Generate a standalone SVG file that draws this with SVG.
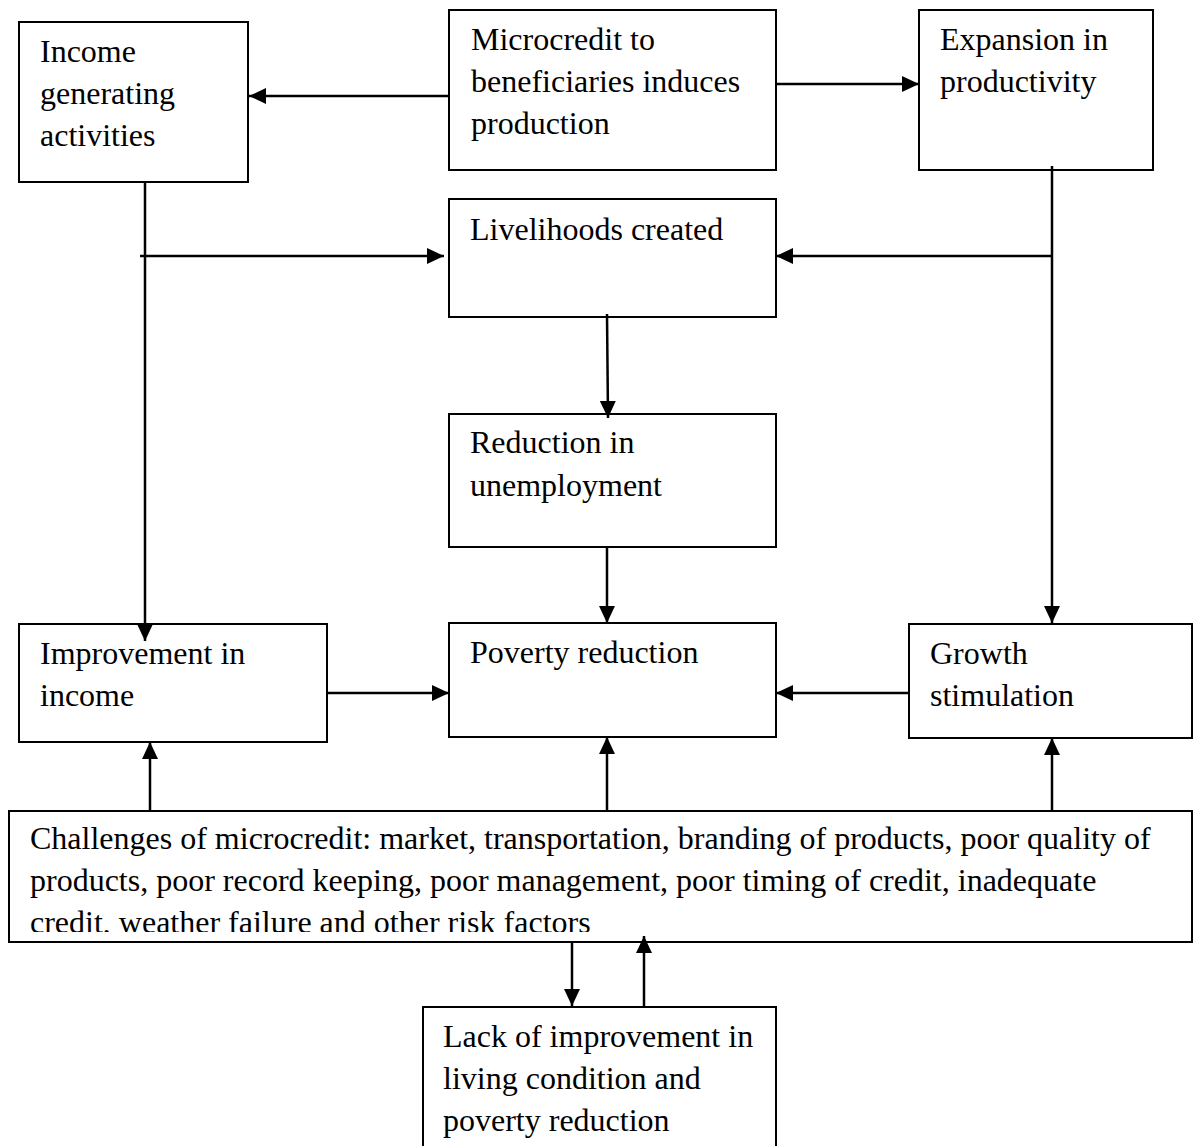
<svg xmlns="http://www.w3.org/2000/svg" width="1193" height="1146" viewBox="0 0 1193 1146">
<style>
.box{fill:#fff;stroke:#000;stroke-width:2}
.t{font-family:"Liberation Serif","Times New Roman",serif;font-size:32px;fill:#000}
.c{fill:none;stroke:#000;stroke-width:2.5}
.a{marker-end:url(#ah)}
</style>
<defs>
<marker id="ah" markerUnits="userSpaceOnUse" markerWidth="18" markerHeight="18" refX="17" refY="8" orient="auto">
<path d="M0,0 L17,8 L0,16 z" fill="#000"/>
</marker>
<clipPath id="clipI"><rect x="9" y="811" width="1183" height="121"/></clipPath>
</defs>
<rect width="1193" height="1146" fill="#fff"/>

<g id="n-income-generating">
<rect class="box" x="19" y="22" width="229" height="160"/>
<text class="t" x="40" y="62">Income</text>
<text class="t" x="40" y="104">generating</text>
<text class="t" x="40" y="146">activities</text>
</g>

<g id="n-microcredit">
<rect class="box" x="449" y="10" width="327" height="160"/>
<text class="t" x="471" y="50">Microcredit to</text>
<text class="t" x="471" y="92">beneficiaries induces</text>
<text class="t" x="471" y="134">production</text>
</g>

<g id="n-expansion">
<rect class="box" x="919" y="10" width="234" height="160"/>
<text class="t" x="940" y="50">Expansion in</text>
<text class="t" x="940" y="92">productivity</text>
</g>

<g id="n-livelihoods">
<rect class="box" x="449" y="199" width="327" height="118"/>
<text class="t" x="470" y="240">Livelihoods created</text>
</g>

<g id="n-reduction-unemployment">
<rect class="box" x="449" y="414" width="327" height="133"/>
<text class="t" x="470" y="453">Reduction in</text>
<text class="t" x="470" y="496">unemployment</text>
</g>

<g id="n-improvement-income">
<rect class="box" x="19" y="624" width="308" height="118"/>
<text class="t" x="40" y="664">Improvement in</text>
<text class="t" x="40" y="706">income</text>
</g>

<g id="n-poverty-reduction">
<rect class="box" x="449" y="623" width="327" height="114"/>
<text class="t" x="470" y="663">Poverty reduction</text>
</g>

<g id="n-growth">
<rect class="box" x="909" y="624" width="283" height="114"/>
<text class="t" x="930" y="664">Growth</text>
<text class="t" x="930" y="706">stimulation</text>
</g>

<g id="n-challenges">
<rect class="box" x="9" y="811" width="1183" height="131"/>
<g clip-path="url(#clipI)">
<text class="t" x="30" y="849">Challenges of microcredit: market, transportation, branding of products, poor quality of</text>
<text class="t" x="30" y="891">products, poor record keeping, poor management, poor timing of credit, inadequate</text>
<text class="t" x="30" y="933">credit, weather failure and other risk factors</text>
</g>
</g>

<g id="n-lack-improvement">
<rect class="box" x="423" y="1007" width="353" height="150"/>
<text class="t" x="443" y="1047">Lack of improvement in</text>
<text class="t" x="443" y="1089">living condition and</text>
<text class="t" x="443" y="1131">poverty reduction</text>
</g>

<g id="connectors">
<line class="c a" x1="449" y1="96" x2="249" y2="96"/>
<line class="c a" x1="776" y1="84" x2="919" y2="84"/>
<line class="c a" x1="145" y1="182" x2="145" y2="641"/>
<line class="c a" x1="140" y1="256" x2="444" y2="256"/>
<line class="c a" x1="1052" y1="166" x2="1052" y2="623"/>
<line class="c a" x1="1052" y1="256" x2="776" y2="256"/>
<line class="c a" x1="607" y1="314" x2="608" y2="418"/>
<line class="c a" x1="607" y1="547" x2="607" y2="623"/>
<line class="c a" x1="327" y1="693" x2="449" y2="693"/>
<line class="c a" x1="909" y1="693" x2="776" y2="693"/>
<line class="c a" x1="150" y1="811" x2="150" y2="742"/>
<line class="c a" x1="607" y1="811" x2="607" y2="737"/>
<line class="c a" x1="1052" y1="811" x2="1052" y2="738"/>
<line class="c a" x1="572" y1="942" x2="572" y2="1006"/>
<line class="c a" x1="644" y1="1007" x2="644" y2="936"/>
</g>
</svg>
